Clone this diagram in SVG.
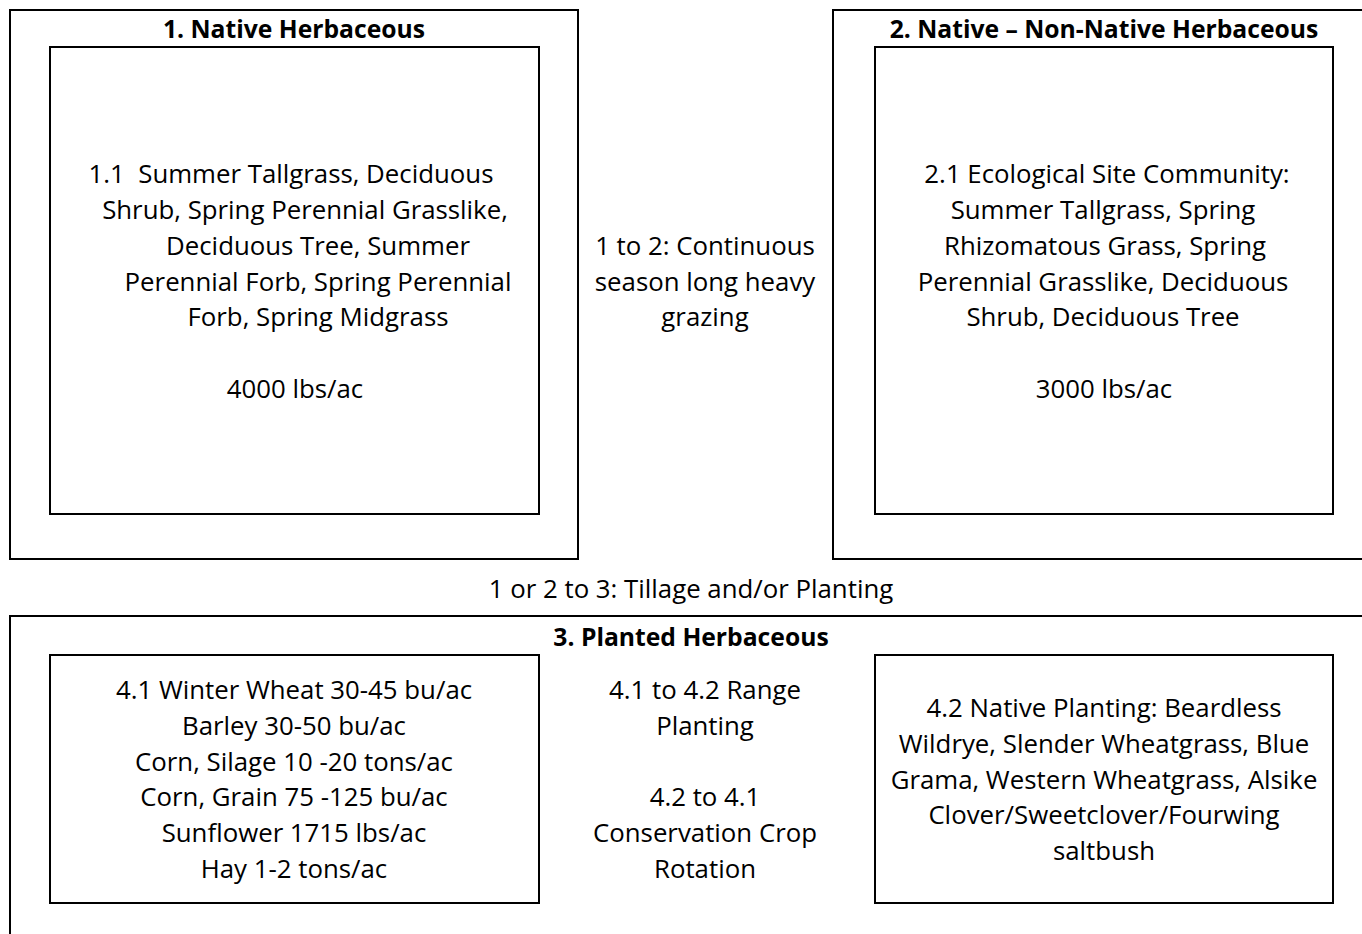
<svg xmlns="http://www.w3.org/2000/svg" width="1362" height="934" viewBox="0 0 1362 934">
<style>
rect{fill:none;stroke:#000;stroke-width:2}
text{font-family:"Open Sans","Liberation Sans",sans-serif;font-size:25.8px;fill:#000;text-anchor:middle}
.b{font-weight:bold;font-size:24.7px}
</style>
<rect x="0" y="0" width="1362" height="934" style="fill:#fff;stroke:none"/>
<g id="node1">
<rect x="10" y="10" width="568" height="549"/>
<text class="b" x="294" y="38">1. Native Herbaceous</text>
<rect x="50" y="47" width="489" height="467"/>
<text x="291" y="183">1.1&#160; Summer Tallgrass, Deciduous</text>
<text x="305" y="219">Shrub, Spring Perennial Grasslike,</text>
<text x="318" y="255">Deciduous Tree, Summer</text>
<text x="318" y="291">Perennial Forb, Spring Perennial</text>
<text x="318" y="326">Forb, Spring Midgrass</text>
<text x="295" y="398">4000 lbs/ac</text>
</g>
<g id="node2">
<rect x="833" y="10" width="540" height="549"/>
<text class="b" x="1104" y="38">2. Native – Non-Native Herbaceous</text>
<rect x="875" y="47" width="458" height="467"/>
<text x="1107" y="183">2.1 Ecological Site Community:</text>
<text x="1103" y="219">Summer Tallgrass, Spring</text>
<text x="1105" y="255">Rhizomatous Grass, Spring</text>
<text x="1103" y="291">Perennial Grasslike, Deciduous</text>
<text x="1103" y="326">Shrub, Deciduous Tree</text>
<text x="1104" y="398">3000 lbs/ac</text>
</g>
<g id="connectors">
<text x="705" y="255">1 to 2: Continuous</text>
<text x="705" y="291">season long heavy</text>
<text x="705" y="326">grazing</text>
<text x="691" y="598">1 or 2 to 3: Tillage and/or Planting</text>
</g>
<g id="node3">
<rect x="10" y="616" width="1370" height="340"/>
<text class="b" x="691" y="646">3. Planted Herbaceous</text>
</g>
<g id="node41">
<rect x="50" y="655" width="489" height="248"/>
<text x="294" y="699">4.1 Winter Wheat 30-45 bu/ac</text>
<text x="294" y="735">Barley 30-50 bu/ac</text>
<text x="294" y="771">Corn, Silage 10 -20 tons/ac</text>
<text x="294" y="806">Corn, Grain 75 -125 bu/ac</text>
<text x="294" y="842">Sunflower 1715 lbs/ac</text>
<text x="294" y="878">Hay 1-2 tons/ac</text>
</g>
<g id="transitions3">
<text x="705" y="699">4.1 to 4.2 Range</text>
<text x="705" y="735">Planting</text>
<text x="705" y="806">4.2 to 4.1</text>
<text x="705" y="842">Conservation Crop</text>
<text x="705" y="878">Rotation</text>
</g>
<g id="node42">
<rect x="875" y="655" width="458" height="248"/>
<text x="1104" y="717">4.2 Native Planting: Beardless</text>
<text x="1104" y="753">Wildrye, Slender Wheatgrass, Blue</text>
<text x="1104" y="789">Grama, Western Wheatgrass, Alsike</text>
<text x="1104" y="824">Clover/Sweetclover/Fourwing</text>
<text x="1104" y="860">saltbush</text>
</g>
</svg>
